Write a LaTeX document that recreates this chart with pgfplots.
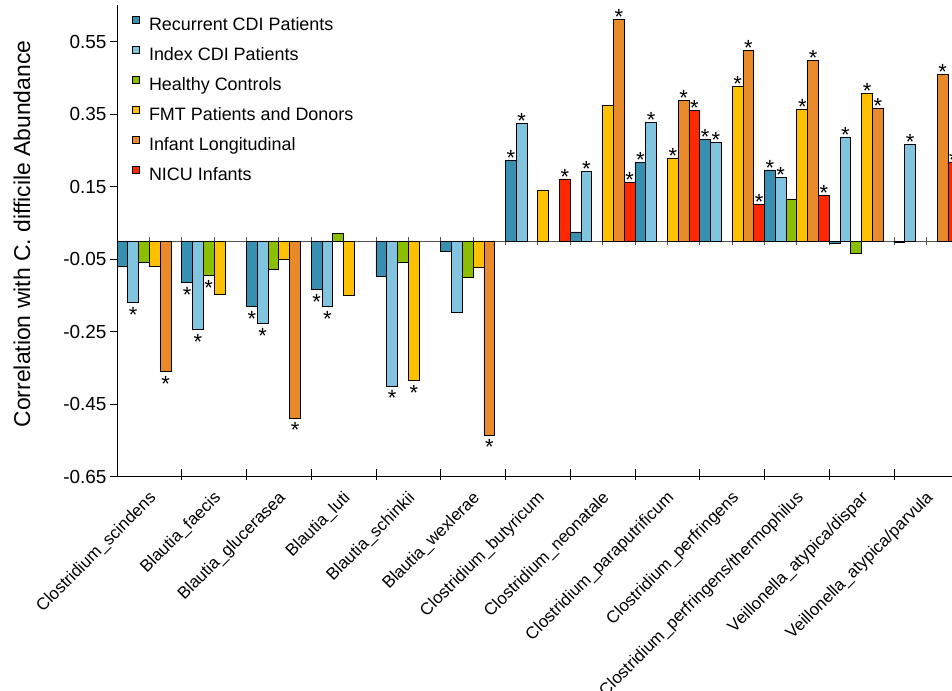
\documentclass[border=0pt]{standalone}
\usepackage{pgfplots}
\pgfplotsset{compat=1.18}
\usepackage{pgfplotstable}
\usepackage{fontspec}
\setmainfont{Liberation Sans}

\definecolor{recur}{HTML}{378FB2}
\definecolor{indexc}{HTML}{80C4E0}
\definecolor{healthy}{HTML}{8CBE00}
\definecolor{fmt}{HTML}{FFC000}
\definecolor{infant}{HTML}{E88A2A}
\definecolor{nicu}{HTML}{FF2800}
\definecolor{zeroline}{HTML}{555555}

% x = taxon index, y = correlation,
% s = significance star above (u) or below (d) the bar, or none (n)
\pgfplotstableread{
x y s
0 -0.069 n
1 -0.115 d
2 -0.180 d
3 -0.134 d
4 -0.097 n
5 -0.028 n
6 0.221 u
7 0.025 n
8 0.216 u
9 0.281 u
10 0.196 u
11 -0.006 n
12 -0.005 n
}\recurrent

\pgfplotstableread{
x y s
0 -0.169 d
1 -0.244 d
2 -0.227 d
3 -0.180 d
4 -0.400 d
5 -0.197 n
6 0.325 u
7 0.192 u
8 0.326 u
9 0.271 u
10 0.175 u
11 0.287 u
12 0.267 u
}\indexcdi

\pgfplotstableread{
x y s
0 -0.060 n
1 -0.095 d
2 -0.078 n
3 0.021 n
4 -0.058 n
5 -0.100 n
10 0.116 n
11 -0.034 n
}\healthyctl

\pgfplotstableread{
x y s
0 -0.069 n
1 -0.146 n
2 -0.050 n
3 -0.149 n
4 -0.384 d
5 -0.073 n
6 0.140 n
7 0.375 n
8 0.228 u
9 0.425 u
10 0.362 u
11 0.406 u
}\fmtdonor

\pgfplotstableread{
x y s
0 -0.359 d
2 -0.488 d
5 -0.535 d
7 0.611 u
8 0.387 u
9 0.526 u
10 0.499 u
11 0.367 u
12 0.460 u
}\infantlong

\pgfplotstableread{
x y s
6 0.171 u
7 0.161 u
8 0.360 u
9 0.100 u
10 0.125 u
12 0.218 u
}\nicuinf

\newcommand\sigstar{%
  \if u\pgfplotspointmeta *\fi
  \if d\pgfplotspointmeta \raisebox{-15.3bp}[0pt][0pt]{*}\fi}

\pgfplotsset{
  sqlegend/.style={legend image code/.code={%
      \draw[##1, line width=0.8bp] (0bp,2.7bp) rectangle (7bp,9.7bp);
      \path (14bp,0bp);}},
  bars/.style={draw=black, line width=0.8bp, sqlegend,
    point meta=explicit symbolic,
    nodes near coords={\sigstar},
    every node near coord/.append style={font=\fontsize{22}{22}\selectfont, inner sep=0pt,
      anchor=south, yshift=-5.5bp, text=black}},
}

\begin{document}
\begin{tikzpicture}
\begin{axis}[
  at={(117bp,214.3bp)}, anchor=south west,
  scale only axis, width=835bp, height=471.4bp,
  xmin=-0.5, xmax=12.396, ymin=-0.65, ymax=0.65,
  clip mode=individual,
  axis x line*=bottom, axis y line*=left,
  axis line style={line width=0.8bp, black},
  ybar, bar width=10.792bp,
  tick align=outside, major tick length=7bp,
  tick style={black, line width=0.8bp},
  xtick pos=left, ytick pos=left,
  ytick={-0.65,-0.45,-0.25,-0.05,0.15,0.35,0.55},
  yticklabels={-0.65,-0.45,-0.25,-0.05,0.15,0.35,0.55},
  yticklabel style={font=\fontsize{19}{19}\selectfont},
  xtick={0,...,12},
  xticklabels={Clostridium\_scindens, Blautia\_faecis, Blautia\_glucerasea,
    Blautia\_luti, Blautia\_schinkii, Blautia\_wexlerae, Clostridium\_butyricum,
    Clostridium\_neonatale, Clostridium\_paraputrificum, Clostridium\_perfringens,
    Clostridium\_perfringens/thermophilus, Veillonella\_atypica/dispar,
    Veillonella\_atypica/parvula},
  xticklabel style={font=\fontsize{17}{17}\selectfont, rotate=45, anchor=north east, xshift=-2bp},
  xtick style={draw=none},
  ylabel={Correlation with C. difficile Abundance},
  ylabel style={font=\fontsize{23}{23}\selectfont, at={(axis description cs:-0.1138,0.515)}, anchor=center},
  legend style={at={(rel axis cs:0.018,0.979)}, anchor=north west, draw=none, fill=none,
    inner sep=0pt, font=\fontsize{18}{18}\selectfont, row sep=9bp,
    nodes={text height=13bp, text depth=4bp, inner sep=2bp}},
  legend cell align=left,
]
% reference line at zero with small ticks at taxon centres and boundaries
\draw[zeroline, line width=0.8bp] (axis cs:-0.5,0) -- (axis cs:12.396,0);
\pgfplotsinvokeforeach{0,0.5,...,12}{
  \draw[zeroline, line width=0.8bp] ([yshift=-4bp]axis cs:#1,0) -- ([yshift=4bp]axis cs:#1,0);
}
% boundary ticks between taxa on the bottom axis
\pgfplotsinvokeforeach{0.5,1.5,...,11.5}{
  \draw[black, line width=0.8bp] ([yshift=-3bp]axis cs:#1,-0.65) -- ([yshift=8bp]axis cs:#1,-0.65);
}
\addplot[bars, fill=recur,   bar shift=-26.98bp] table[x=x, y=y, meta=s] {\recurrent};
\addplot[bars, fill=indexc,  bar shift=-16.19bp] table[x=x, y=y, meta=s] {\indexcdi};
\addplot[bars, fill=healthy, bar shift=-5.40bp]  table[x=x, y=y, meta=s] {\healthyctl};
\addplot[bars, fill=fmt,     bar shift=5.40bp]   table[x=x, y=y, meta=s] {\fmtdonor};
\addplot[bars, fill=infant,  bar shift=16.19bp]  table[x=x, y=y, meta=s] {\infantlong};
\addplot[bars, fill=nicu,    bar shift=26.98bp]  table[x=x, y=y, meta=s] {\nicuinf};
\legend{Recurrent CDI Patients, Index CDI Patients, Healthy Controls,
  FMT Patients and Donors, Infant Longitudinal, NICU Infants}
\end{axis}
\pgfresetboundingbox
\useasboundingbox (0bp,0bp) rectangle (952bp,691bp);
\end{tikzpicture}
\end{document}
